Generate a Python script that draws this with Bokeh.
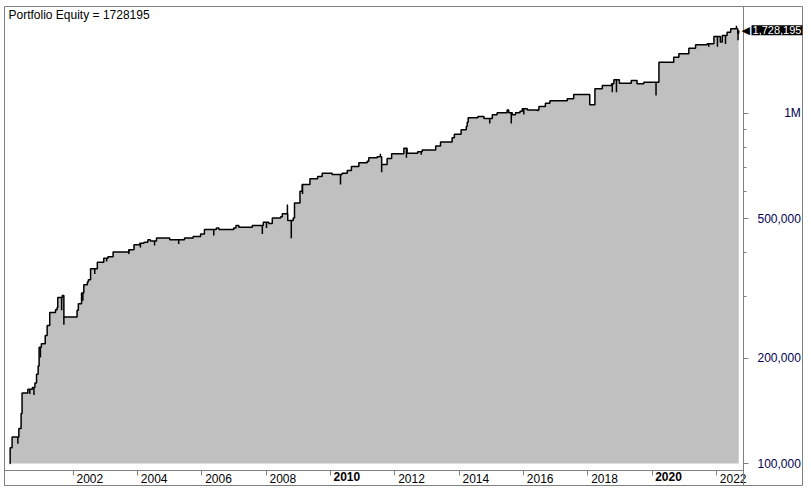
import numpy as np
from bokeh.plotting import figure
from bokeh.models import Range1d, FixedTicker, NumeralTickFormatter, Label
from bokeh.embed import file_html
from bokeh.resources import INLINE

# ---------------- data ----------------
dates = [
    2000.02, 2000.04, 2000.10, 2000.31, 2000.38, 2000.41, 2000.59, 2000.73, 2000.81, 2000.86,
    2000.91, 2000.94, 2001.01, 2001.13, 2001.19, 2001.27, 2001.45, 2001.50, 2001.52, 2001.66,
    2001.71, 2002.12, 2002.16, 2002.26, 2002.33, 2002.44, 2002.47, 2002.54, 2002.75, 2002.95,
    2003.08, 2003.24, 2003.73, 2003.89, 2004.07, 2004.20, 2004.32, 2004.40, 2004.59, 2005.00,
    2005.46, 2005.73, 2005.96, 2006.08, 2006.45, 2006.53, 2006.99, 2007.06, 2007.15, 2007.57,
    2007.91, 2008.08, 2008.19, 2008.45, 2008.50, 2008.67, 2008.84, 2008.88, 2009.05, 2009.12,
    2009.36, 2009.60, 2009.74, 2010.05, 2010.36, 2010.52, 2010.65, 2010.88, 2011.14, 2011.19,
    2011.45, 2011.59, 2011.76, 2011.90, 2012.28, 2012.38, 2012.71, 2012.85, 2013.27, 2013.42,
    2013.78, 2013.85, 2014.06, 2014.22, 2014.25, 2014.28, 2014.58, 2014.77, 2015.03, 2015.18,
    2015.49, 2015.54, 2015.65, 2015.75, 2015.89, 2015.96, 2016.12, 2016.48, 2016.68, 2016.82,
    2017.36, 2017.56, 2018.06, 2018.22, 2018.45, 2018.74, 2018.81, 2018.98, 2019.35, 2019.53,
    2019.74, 2020.21, 2020.67, 2020.83, 2021.14, 2021.35, 2021.71, 2021.92, 2022.12, 2022.18,
    2022.33, 2022.44, 2022.66, 2022.69,
]
equity = [
    100000, 111000, 119000, 126000, 139000, 159000, 163000, 165000, 170000, 180000,
    190000, 215000, 220000, 232000, 248000, 270000, 275000, 279000, 298000, 302000,
    262000, 274000, 286000, 307000, 324000, 330000, 335000, 360000, 376000, 386000,
    390000, 402000, 408000, 422000, 426000, 429000, 436000, 432000, 441000, 436000,
    441000, 445000, 453000, 466000, 471000, 466000, 471000, 479000, 473000, 479000,
    489000, 485000, 503000, 507000, 517000, 495000, 503000, 555000, 600000, 627000,
    651000, 661000, 675000, 669000, 675000, 687000, 706000, 723000, 730000, 747000,
    752000, 715000, 744000, 767000, 796000, 770000, 777000, 787000, 808000, 829000,
    853000, 872000, 899000, 918000, 944000, 972000, 980000, 967000, 991000, 1005000,
    1024000, 1005000, 991000, 1005000, 1015000, 1031000, 1024000, 1047000, 1070000, 1087000,
    1102000, 1133000, 1059000, 1176000, 1202000, 1216000, 1248000, 1221000, 1243000, 1216000,
    1229000, 1402000, 1448000, 1481000, 1537000, 1572000, 1582000, 1660000, 1600000, 1671000,
    1707000, 1746000, 1696000, 1728195,
]
# short excursions (intrabar extremes) shown as vertical spikes
spike_dates = [
    2000.28, 2000.65, 2000.78, 2000.98, 2001.64, 2001.71, 2002.30, 2002.67, 2003.04, 2003.73,
    2004.09, 2004.53, 2005.28, 2006.37, 2007.88, 2008.01, 2008.66, 2008.78, 2009.13, 2010.31,
    2011.55, 2011.59, 2012.36, 2012.82, 2014.95, 2015.62, 2016.01, 2016.44, 2018.76, 2018.89,
    2020.12, 2021.76, 2022.03, 2022.28, 2022.62, 2022.67,
]
spike_values = [
    114000, 158000, 157000, 201000, 274000, 249000, 292000, 348000, 378000, 397000,
    414000, 420000, 424000, 448000, 453000, 471000, 550000, 440000, 589000, 627000,
    767000, 679000, 747000, 762000, 936000, 936000, 993000, 1015000, 1150000, 1150000,
    1126000, 1550000, 1550000, 1580000, 1780000, 1620000,
]
year_ticks = list(range(2002, 2023, 2))
bold_years = [2010, 2020]
y_ticks = [100000, 200000, 500000, 1000000]
y_minor_ticks = [300000, 400000, 600000, 700000, 800000, 900000]
y_label_overrides = {1000000: "1M"}

# view window (frame covers the whole bordered box; axes are pinned inside it)
X_RANGE = (1999.864, 2024.705)
Y_RANGE = (85985, 2021500)
Y_AXIS_AT = 2022.840     # x position of the price axis
X_AXIS_AT = 95499        # y position of the time axis

FONT = "Liberation Sans"
NBSP = "\u00a0"
AXIS_GRAY = "#808080"

p = figure(
    width=803, height=486, output_backend="svg", toolbar_location=None,
    x_range=Range1d(*X_RANGE), y_range=Range1d(*Y_RANGE), y_axis_type="log",
    y_axis_location="right",
    min_border_left=4, min_border_top=6, min_border_right=0, min_border_bottom=0,
    background_fill_color="white", border_fill_color="white",
    outline_line_color=AXIS_GRAY, outline_line_width=1,
)
p.grid.visible = False

base = [equity[0]] * len(dates)
p.varea_step(x=dates, y1=base, y2=equity, step_mode="after", fill_color="#c0c0c0")
p.step(dates, equity, mode="after", line_color="black", line_width=1.5)

d = np.array(dates)
e = np.array(equity)
idx = np.searchsorted(d, np.array(spike_dates), side="right") - 1
levels = e[np.clip(idx, 0, len(e) - 1)]
p.segment(x0=spike_dates, y0=levels.tolist(), x1=spike_dates, y1=spike_values,
          line_color="black", line_width=1.5)

# time axis line (only up to the price axis)
p.segment(x0=[X_RANGE[0]], y0=[X_AXIS_AT], x1=[Y_AXIS_AT], y1=[X_AXIS_AT],
          line_color=AXIS_GRAY, line_width=1)

# x axis
xa = p.xaxis[0]
xa.fixed_location = X_AXIS_AT
xa.ticker = FixedTicker(ticks=year_ticks)
xa.major_label_overrides = {
    yr: ("" if yr in bold_years else NBSP * 10 + str(yr)) for yr in year_ticks
}
xa.axis_line_color = None
xa.major_tick_line_color = AXIS_GRAY
xa.minor_tick_line_color = None
xa.major_tick_in = 0
xa.major_tick_out = 5
xa.major_label_standoff = -4
xa.major_label_text_font = FONT
xa.major_label_text_font_size = "12px"
xa.major_label_text_color = "black"

for yr in bold_years:
    p.add_layout(Label(x=yr, y=X_AXIS_AT, x_offset=3, y_offset=-1, text=str(yr),
                       text_align="left", text_baseline="top", text_font=FONT,
                       text_font_size="12px", text_font_style="bold", text_color="black"))

# y axis (price axis, pinned)
ya = p.yaxis[0]
ya.fixed_location = Y_AXIS_AT
ya.ticker = FixedTicker(ticks=y_ticks, minor_ticks=y_minor_ticks)
ya.formatter = NumeralTickFormatter(format="0,0")
ya.major_label_overrides = {k: NBSP * 8 + v for k, v in y_label_overrides.items()}
ya.axis_line_color = AXIS_GRAY
ya.major_tick_line_color = AXIS_GRAY
ya.minor_tick_line_color = AXIS_GRAY
ya.major_tick_in = 0
ya.major_tick_out = 5
ya.minor_tick_in = 0
ya.minor_tick_out = 3
ya.major_label_standoff = 9
ya.major_label_text_font = FONT
ya.major_label_text_font_size = "12px"
ya.major_label_text_color = "#000050"

# title inside the frame
p.add_layout(Label(x=X_RANGE[0], y=Y_RANGE[1], x_offset=4, y_offset=-1,
                   text=f"Portfolio Equity = {equity[-1]}", text_align="left",
                   text_baseline="top", text_font=FONT, text_font_size="12px",
                   text_color="black"))

# last value tag on the price axis
p.add_layout(Label(x=Y_AXIS_AT, y=equity[-1], x_offset=-2, text="\u25c0",
                   text_align="left", text_baseline="middle", text_font="DejaVu Sans",
                   text_font_size="11px", text_color="black"))
p.add_layout(Label(x=Y_AXIS_AT, y=equity[-1], x_offset=8, text=f"{equity[-1]:,}",
                   text_align="left", text_baseline="middle", text_font=FONT,
                   text_font_size="11px", text_color="white",
                   background_fill_color="black", padding=1))

open("out.html", "w").write(file_html(p, INLINE))
